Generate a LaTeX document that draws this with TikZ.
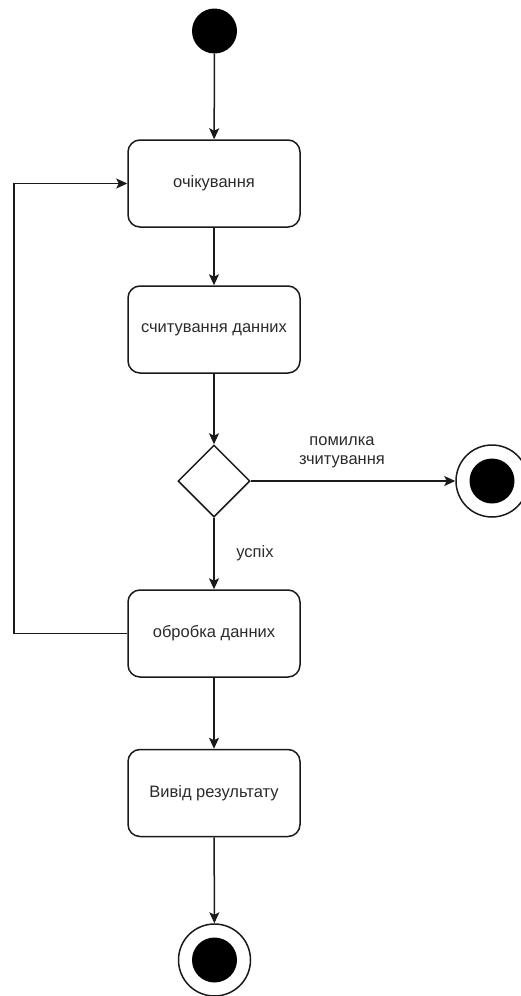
\documentclass[tikz,border=0pt]{standalone}
\usepackage{fontspec}
\setmainfont{Liberation Sans}
\usetikzlibrary{shapes.geometric,arrows.meta}
\definecolor{ink}{HTML}{1A1A1A}
\definecolor{txt}{HTML}{2B2B2B}
\begin{document}
\begin{tikzpicture}[x=1pt,y=-1pt,
  every node/.style={font=\fontsize{16.5}{20}\selectfont, text=txt},
  state/.style={draw=ink, line width=1.5pt, rounded corners=12pt, fill=white,
    minimum width=172pt, minimum height=87pt, inner sep=0pt},
  choice/.style={draw=ink, line width=1.5pt, diamond, aspect=1, fill=white,
    minimum width=72pt, minimum height=72pt, inner sep=0pt},
  startdot/.style={circle, fill=black, minimum size=45pt, inner sep=0pt},
  endring/.style={circle, draw=ink, line width=1.5pt, fill=white, minimum size=72pt, inner sep=0pt},
  enddot/.style={circle, fill=black, minimum size=45pt, inner sep=0pt},
  flow/.style={draw=ink, line width=1.5pt, -{Stealth[length=11pt,width=10pt,inset=2.5pt]}},
  guard/.style={align=center}
]
\useasboundingbox (0,0) rectangle (521,996);

% initial state
\node[startdot] (init) at (214.5,31) {};

% activity states
\node[state] (wait) at (214,183.5) {очікування};
\node[state] (read) at (214,329.5) {считування данних};
\node[choice] (dec) at (214,481) {};
\node[state] (proc) at (214,633.5) {обробка данних};
\node[state] (out) at (214,793) {Вивід результату};

% final states
\node[endring] (errend) at (492,481) {};
\node[enddot] (errdot) at (errend.center) {};
\node[endring] (fin) at (214.5,960) {};
\node[enddot] (findot) at (fin.center) {};

% transitions
\draw[flow] (init) -- (wait);
\draw[flow] (wait) -- (read);
\draw[flow] (read) -- (dec.north);
\draw[flow] (dec.east) -- (errend);
\draw[flow] (dec.south) -- (proc);
\draw[flow] (proc) -- (out);
\draw[flow] (out) -- (fin);

% loop back to waiting
\coordinate (loopturn) at (14,633.5);
\draw[flow] (proc.west) -- (loopturn) |- (wait.west);

% guards
\node[guard] (errlbl) at (342,452) {помилка\\[-1pt]зчитування};
\node (oklbl) at (255,553) {успіх};
\end{tikzpicture}
\end{document}
